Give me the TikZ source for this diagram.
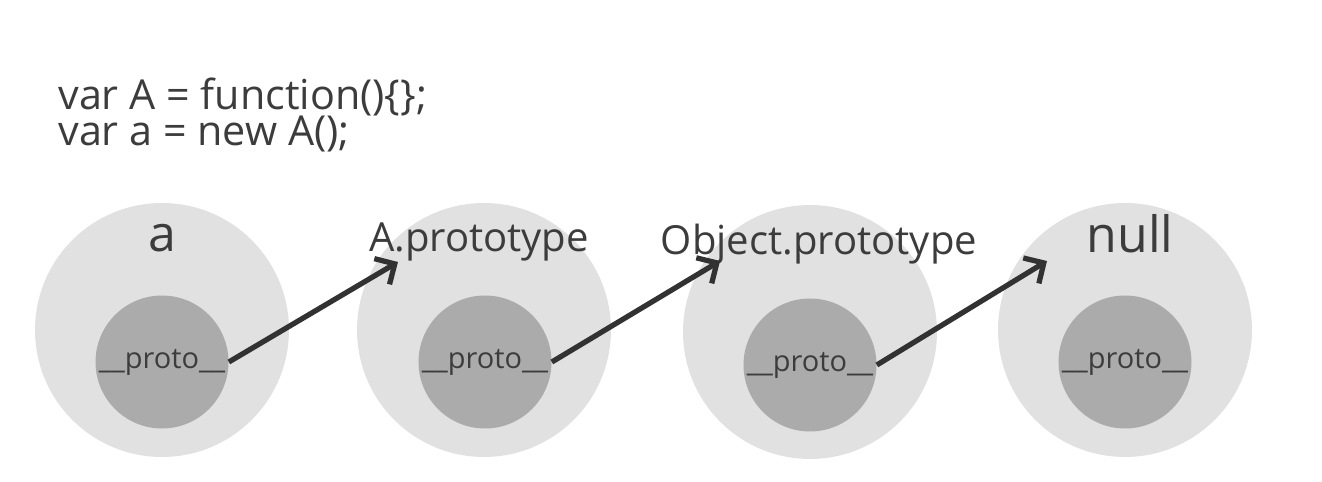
\documentclass[tikz,border=0pt]{standalone}
\usepackage{fontspec}
\setmainfont{Open Sans}
\usetikzlibrary{arrows.meta}
\definecolor{outergray}{RGB}{225,225,225}
\definecolor{innergray}{RGB}{171,171,171}
\definecolor{inkgray}{RGB}{60,60,60}
\definecolor{arrowgray}{RGB}{50,50,50}
\newcommand{\codefont}{\fontsize{23.5}{20}\selectfont\lineskiplimit -100pt\relax}
\begin{document}
\begin{tikzpicture}[x=0.02cm, y=-0.02cm,
    outer/.style={shape=circle, fill=outergray, inner sep=0, minimum size=5.08cm},
    inner/.style={shape=circle, fill=innergray, inner sep=0, minimum size=2.66cm,
        text=inkgray, font=\fontsize{16.5}{18}\selectfont},
    title/.style={anchor=base, text=inkgray, font=\fontsize{22.8}{26}\selectfont, inner sep=0},
    bigtitle/.style={title, font=\fontsize{28.5}{32}\selectfont},
    code/.style={anchor=north west, align=left, text=inkgray, inner sep=0, font=\codefont},
    link/.style={draw=arrowgray, line width=3pt, -{Straight Barb[length=8.5pt,width=17pt]}}]
    \useasboundingbox (0,0) rectangle (1322,482);
    % code
    \node[code] (code) at (58,78) {var A = function()\{\};\\var a = new A();};
    % objects
    \node[outer] (a) at (162,330) {};
    \node[outer] (b) at (484,330) {};
    \node[outer] (c) at (810,332) {};
    \node[outer] (d) at (1125,330) {};
    \node[inner] (pa) at (162,362) {\_\_proto\_\_};
    \node[inner] (pb) at (485,362) {\_\_proto\_\_};
    \node[inner] (pc) at (810,365) {\_\_proto\_\_};
    \node[inner] (pd) at (1125,362) {\_\_proto\_\_};
    \node[bigtitle] (la) at (162,252) {a};
    \node[title] (lb) at (479,252) {A.prototype};
    \node[title] (lc) at (819,255) {Object.prototype};
    \node[bigtitle] (ld) at (1130,253) {null};
    % links
    \coordinate (tb) at (398,262);
    \coordinate (tc) at (720,261);
    \coordinate (td) at (1047,261);
    \draw[link] (pa.east) -- (tb);
    \draw[link] (pb.east) -- (tc);
    \draw[link] (pc.east) -- (td);
\end{tikzpicture}
\end{document}
